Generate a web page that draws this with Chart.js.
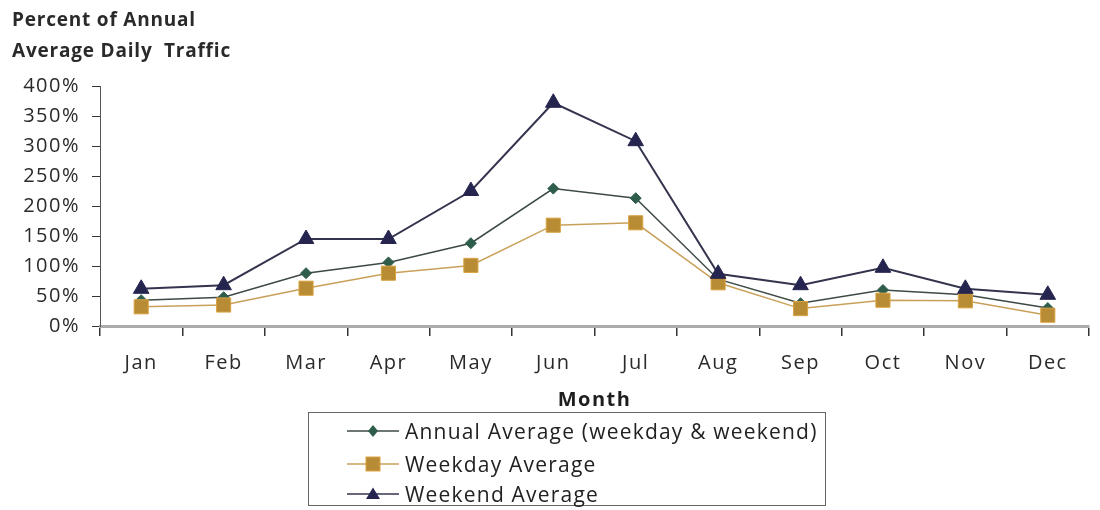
<!DOCTYPE html>
<html>
<head>
<meta charset="utf-8">
<script src="https://cdn.jsdelivr.net/npm/chart.js@4.4.1/dist/chart.umd.min.js"></script>
<style>
  body { margin: 0; background: #fff; }
  #wrap { position: relative; width: 1100px; height: 510px; font-family: 'Open Sans', sans-serif; }
  #title { position: absolute; left: 12px; top: 4px; font-weight: bold; font-size: 19px; letter-spacing: 0.8px; line-height: 31px; color: #2a2a2a; }
  #legend { position: absolute; left: 308px; top: 412px; width: 518px; height: 94px; border: 1.5px solid #666; box-sizing: border-box; }
  .row { position: absolute; left: 38px; height: 30px; display: flex; align-items: center; font-size: 21px; letter-spacing: 1.2px; color: #222; }
  .row svg { margin-right: 6px; }
</style>
</head>
<body>
<div id="wrap">
  <canvas id="c" width="1100" height="510"></canvas>
  <div id="title">Percent of Annual<br>Average Daily&nbsp; Traffic</div>
  <div id="legend"></div>
</div>
<script>
const months = ['Jan', 'Feb', 'Mar', 'Apr', 'May', 'Jun', 'Jul', 'Aug', 'Sep', 'Oct', 'Nov', 'Dec'];
const annualAvg = [43, 48, 88, 106, 138, 229, 213, 78, 38, 60, 52, 30];
const weekdayAvg = [32, 35, 63, 88, 101, 168, 172, 72, 29, 43, 42, 18];
const weekendAvg = [62, 68, 145, 145, 225, 372, 308, 87, 68, 97, 62, 52];
const yTicks = [0, 50, 100, 150, 200, 250, 300, 350, 400];

const series = [
    { label: 'Annual Average (weekday & weekend)', data: annualAvg, line: '#3d4a45', fill: '#2f5d4b', stroke: '#2f5d4b', style: 'rectRot', r: 5.5, order: 2, width: 1.5 },
    { label: 'Weekday Average', data: weekdayAvg, line: '#c9a05a', fill: '#b88b35', stroke: '#dba444', style: 'rect', r: 10, order: 1, width: 1.5 },
    { label: 'Weekend Average', data: weekendAvg, line: '#34344f', fill: '#26254f', stroke: '#26254f', style: 'triangle', r: 9, order: 0, width: 2 }
];

// wider letters on the canvas text, like the original
const spacing = {
    id: 'spacing',
    beforeUpdate: chart => { chart.ctx.letterSpacing = '1.5px'; },
    beforeDraw: chart => { chart.ctx.letterSpacing = '1.5px'; }
};

const ctx = document.getElementById('c').getContext('2d');
new Chart(ctx, {
    type: 'line',
    data: {
        labels: months,
        datasets: series.map(s => ({
            label: s.label,
            data: s.data,
            borderColor: s.line,
            borderWidth: s.width,
            pointStyle: s.style,
            pointRadius: s.r,
            pointBackgroundColor: s.fill,
            pointBorderColor: s.stroke,
            pointBorderWidth: 1,
            order: s.order,
            tension: 0
        }))
    },
    plugins: [spacing],
    options: {
        responsive: false,
        animation: false,
        layout: { padding: { left: 12, right: 3, top: 86, bottom: 94 } },
        plugins: {
            legend: { display: false },
            tooltip: { enabled: false }
        },
        scales: {
            x: {
                offset: true,
                grid: { offset: true, drawOnChartArea: false, tickLength: 10, color: '#333', lineWidth: 1.5 },
                border: { color: '#ababab', width: 3 },
                ticks: { color: '#2a2a2a', font: { family: 'Open Sans', size: 20 }, padding: 15, maxRotation: 0 },
                title: { display: true, text: 'Month', color: '#1e1e1e', font: { family: 'Open Sans', size: 20, weight: 'bold' }, padding: { top: 4, bottom: 4 } },
                afterFit: scale => { scale.height = 90; }
            },
            y: {
                min: 0,
                max: 400,
                afterBuildTicks: scale => { scale.ticks = yTicks.map(v => ({ value: v })); },
                grid: { drawOnChartArea: false, tickLength: 8, color: '#333' },
                border: { color: '#555', width: 1 },
                ticks: { color: '#2a2a2a', font: { family: 'Open Sans', size: 20 }, padding: 12, callback: v => v + '%' },
                afterFit: scale => { scale.width = 88; }
            }
        }
    }
});

// legend box under the chart
const legendEl = document.getElementById('legend');
const rowTops = [3, 36, 66];
series.forEach((s, i) => {
    const row = document.createElement('div');
    row.className = 'row';
    row.style.top = rowTops[i] + 'px';
    let marker = '';
    if (s.style === 'rectRot') marker = `<polygon points="26,4 31,10 26,16 21,10" fill="${s.fill}"/>`;
    if (s.style === 'rect') marker = `<rect x="19" y="3" width="14" height="14" fill="${s.fill}" stroke="${s.stroke}"/>`;
    if (s.style === 'triangle') marker = `<polygon points="26,3.5 33,15 19,15" fill="${s.fill}"/>`;
    row.innerHTML = `<svg width="52" height="20"><line x1="0" y1="10" x2="52" y2="10" stroke="${s.line}" stroke-width="1.5"/>${marker}</svg><span>${s.label}</span>`;
    legendEl.appendChild(row);
});
</script>
</body>
</html>
